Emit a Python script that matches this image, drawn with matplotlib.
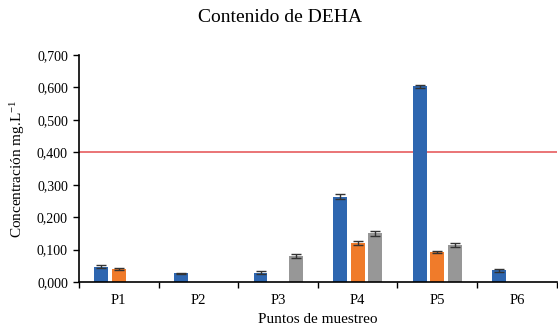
import matplotlib
matplotlib.use("Agg")
import matplotlib.pyplot as plt
import numpy as np
from matplotlib.ticker import FuncFormatter, FixedLocator

plt.rcParams['font.family'] = ['Liberation Serif', 'DejaVu Serif']
plt.rcParams['mathtext.fontset'] = 'custom'
plt.rcParams['mathtext.rm'] = 'Liberation Serif'
plt.rcParams['mathtext.it'] = 'Liberation Serif:italic'
plt.rcParams['mathtext.default'] = 'regular'

puntos = ["P1", "P2", "P3", "P4", "P5", "P6"]
serie_1 = [0.047, 0.027, 0.029, 0.263, 0.603, 0.036]
serie_2 = [0.040, 0.0, 0.0, 0.120, 0.093, 0.0]
serie_3 = [0.0, 0.0, 0.080, 0.150, 0.113, 0.0]
err_1 = [0.005, 0.002, 0.004, 0.007, 0.005, 0.004]
err_2 = [0.004, 0.0, 0.0, 0.006, 0.004, 0.0]
err_3 = [0.0, 0.0, 0.006, 0.007, 0.006, 0.0]
limite = 0.4

colores = ["#2E66B0", "#F07B2A", "#979797"]

fig = plt.figure(figsize=(5.58, 3.29), dpi=100)
ax = fig.add_axes([0.1416, 0.1429, 0.856, 0.69])

x = np.arange(len(puntos))
w = 0.175
step = 0.22
for i, (vals, errs, c) in enumerate(zip([serie_1, serie_2, serie_3],
                                       [err_1, err_2, err_3], colores)):
    pos = x + (i - 1) * step
    v = np.array(vals)
    e = np.array(errs)
    mask = v > 0
    ax.bar(pos[mask], v[mask], width=w, color=c, zorder=2)
    ax.errorbar(pos[mask], v[mask], yerr=e[mask], fmt='none', ecolor='#333333',
                elinewidth=1.0, capsize=3.5, capthick=1.0, zorder=3)

ax.axhline(limite, color="#E8696B", lw=1.3, zorder=1)

ax.set_xlim(-0.5, len(puntos) - 0.5)
ax.set_ylim(0, 0.7)
ax.set_yticks(np.arange(0, 0.71, 0.1))
ax.yaxis.set_major_formatter(FuncFormatter(lambda v, p: f"{v:.3f}".replace(".", ",")))
ax.set_xticks(x)
ax.set_xticklabels(puntos)
ax.xaxis.set_minor_locator(FixedLocator(np.arange(-0.5, len(puntos), 1.0)))
ax.tick_params(axis='x', which='major', length=0, pad=9, labelsize=10.5)
ax.tick_params(axis='x', which='minor', length=4, width=1.0, direction='out')
ax.tick_params(axis='y', length=4, width=1.0, direction='out', labelsize=10, pad=4)

for s in ["top", "right"]:
    ax.spines[s].set_visible(False)
ax.spines["left"].set_linewidth(1.2)
ax.spines["bottom"].set_linewidth(1.2)

fig.text(280 / 558, 1 - 18 / 329, "Contenido de DEHA", fontsize=14,
         ha="center", va="center")
ax.set_xlabel("Puntos de muestreo", fontsize=11, labelpad=4)
ax.set_ylabel("Concentración mg.L$^{-1}$", fontsize=11, labelpad=7)

fig.savefig("out.png", dpi=100)
